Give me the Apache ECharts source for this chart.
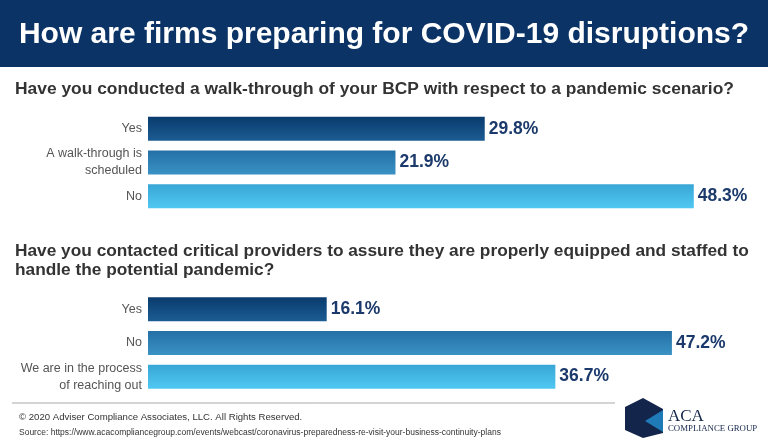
<!DOCTYPE html>
<html><head><meta charset="utf-8">
<script src="https://cdn.jsdelivr.net/npm/echarts@6/dist/echarts.min.js"></script>
<style>html,body{margin:0;padding:0;background:#fff}#c{width:768px;height:448px}</style>
</head><body><div id="c"></div>
<script>
const titleText = 'How are firms preparing for COVID-19 disruptions?';
const q1Text = 'Have you conducted a walk-through of your BCP with respect to a pandemic scenario?';
const q2Text = 'Have you contacted critical providers to assure they are properly equipped and staffed to\nhandle the potential pandemic?';
const q1Categories = ['Yes', 'A walk-through is\nscheduled', 'No'];
const q1Values = [29.8, 21.9, 48.3];
const q2Categories = ['Yes', 'No', 'We are in the process\nof reaching out'];
const q2Values = [16.1, 47.2, 36.7];
const copyrightText = '© 2020 Adviser Compliance Associates, LLC. All Rights Reserved.';
const sourceText = 'Source: https://www.acacompliancegroup.com/events/webcast/coronavirus-preparedness-re-visit-your-business-continuity-plans';

const FONT = '"Liberation Sans", Arial, Helvetica, sans-serif';
const gradients = [
  ['#0a3b6e', '#1c5d93'],
  ['#2470a6', '#3a92c4'],
  ['#38a6d6', '#50c8f2']
];
function grad(i) {
  return new echarts.graphic.LinearGradient(0, 0, 0, 1, [
    {offset: 0, color: gradients[i][0]}, {offset: 1, color: gradients[i][1]}
  ]);
}
function items(vals) {
  return vals.map((v, i) => ({value: v, itemStyle: {color: grad(i)}}));
}
const chart = echarts.init(document.getElementById('c'), null, {renderer: 'canvas'});
const yAx = (cats, idx) => ({
  type: 'category', gridIndex: idx, data: cats, inverse: true,
  axisLine: {show: false}, axisTick: {show: false}, splitLine: {show: false},
  axisLabel: {margin: 6, color: '#555', fontSize: 12.5, fontFamily: FONT, lineHeight: 17, align: 'right'}
});
const xAx = (idx) => ({
  type: 'value', gridIndex: idx, min: 0, max: 50, show: false, splitLine: {show: false}
});
const lbl = {
  show: true, position: 'right', distance: 4, formatter: p => p.value.toFixed(1) + '%',
  color: '#1b3a6b', fontSize: 17.5, fontWeight: 'bold', fontFamily: FONT
};
chart.setOption({
  animation: false,
  backgroundColor: '#fff',
  title: [
    {text: titleText, left: 'center', top: 20, padding: 0, textStyle: {color: '#fff', fontSize: 30, fontWeight: 'bold', fontFamily: FONT}},
    {text: q1Text, left: 15, top: 81, padding: 0, textStyle: {color: '#333', fontSize: 17.4, fontWeight: 'bold', fontFamily: FONT}},
    {text: q2Text, left: 15, top: 242, padding: 0, textStyle: {color: '#333', fontSize: 17.3, fontWeight: 'bold', fontFamily: FONT, lineHeight: 18.5}},
    {text: copyrightText, left: 19, top: 412, padding: 0, textStyle: {color: '#333', fontSize: 9.6, fontWeight: 'normal', fontFamily: FONT}},
    {text: sourceText, left: 19, top: 428, padding: 0, textStyle: {color: '#333', fontSize: 8.5, fontWeight: 'normal', fontFamily: FONT}}
  ],
  graphic: [
    {type: 'rect', z: -10, shape: {x: 0, y: 0, width: 768, height: 67}, style: {fill: '#0b3366'}},
    {type: 'line', shape: {x1: 12, y1: 403, x2: 615, y2: 403}, style: {stroke: '#aaa', lineWidth: 1}},
    {type: 'polygon', shape: {points: [[643, 398], [663, 409], [663, 433], [643, 438], [625, 430], [625, 407]]}, style: {fill: '#13254a'}},
    {type: 'polygon', shape: {points: [[663, 410], [645, 421], [663, 432]]}, style: {fill: '#1f7ab8'}},
    {type: 'text', left: 668, top: 408, style: {text: 'ACA', fill: '#13254a', font: '17px "Liberation Serif", "DejaVu Serif", serif'}},
    {type: 'text', left: 668, top: 424, style: {text: 'COMPLIANCE GROUP', fill: '#13254a', font: '8.8px "Liberation Serif", "DejaVu Serif", serif'}}
  ],
  grid: [
    {left: 148, top: 112, width: 565, height: 101},
    {left: 148, top: 292.5, width: 555, height: 101}
  ],
  xAxis: [xAx(0), xAx(1)],
  yAxis: [yAx(q1Categories, 0), yAx(q2Categories, 1)],
  series: [
    {type: 'bar', xAxisIndex: 0, yAxisIndex: 0, data: items(q1Values), barWidth: 24, label: lbl},
    {type: 'bar', xAxisIndex: 1, yAxisIndex: 1, data: items(q2Values), barWidth: 24, label: lbl}
  ]
});
</script></body></html>
